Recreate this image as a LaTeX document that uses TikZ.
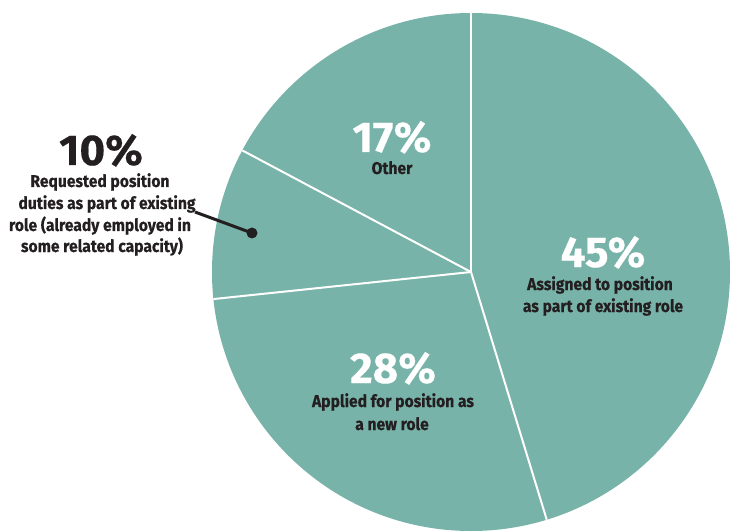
\documentclass[tikz,border=0pt]{standalone}
\usepackage{fontspec}
\setmainfont{Fira Sans}
\newfontfamily\labfont{Fira Sans}[FakeStretch=0.92,FakeBold=0.4]
\newfontfamily\pctfont{Fira Sans}[FakeStretch=1.02,FakeBold=0.4]
\usetikzlibrary{calc}
\definecolor{piefill}{HTML}{78B3A9}
\definecolor{ink}{HTML}{231F20}
\begin{document}
\begin{tikzpicture}[x=1pt,y=-1pt,
  lab/.style={font=\labfont\bfseries\fontsize{17}{21.8}\selectfont, text=ink, inner sep=0pt, anchor=base},
  pct/.style={font=\pctfont\bfseries\fontsize{43}{43}\selectfont, text=white, inner sep=0pt, text depth=0pt, anchor=base},
  divider/.style={draw=white, line width=2pt},
  leader/.style={draw=ink, line width=3pt}]
\useasboundingbox (0,0) rectangle (737,532);
\clip (0,0) rectangle (737,532);
\coordinate (c) at (471,272);
\fill[piefill] (c) circle[radius=259pt];
\coordinate (e1) at ($(c)+(90:259pt)$);
\coordinate (e2) at ($(c)+(-73:259pt)$);
\coordinate (e3) at ($(c)+(-174:259pt)$);
\coordinate (e4) at ($(c)+(152:259pt)$);
\foreach \e in {e1,e2,e3,e4} \draw[divider] (c) -- (\e);
% 45%
\node[pct] (p45) at (603,267) {45\%};
\node[lab] (l45a) at (600,290) {Assigned to position};
\node[lab] (l45b) at (603,312) {as part of existing role};
% 28%
\node[pct] (p28) at (393,383) {28\%};
\node[lab] (l28a) at (393,407) {Applied for position as};
\node[lab] (l28b) at (392,430) {a new role};
% 17%
\node[pct] (p17) at (392,152) {17\%};
\node[lab] (l17) at (392,174) {Other};
% 10%
\node[pct, text=ink] (p10) at (101,165) {10\%};
\node[lab] (l10a) at (100,187) {Requested position};
\node[lab] (l10b) at (107,209) {duties as part of existing};
\node[lab] (l10c) at (100,231) {role (already employed in};
\node[lab] (l10d) at (102,252) {some related capacity)};
\coordinate (ls) at (195,212);
\node[circle, fill=ink, inner sep=0pt, minimum size=11pt] (dot) at (252,233) {};
\draw[leader] (ls) -- (dot.center);
\end{tikzpicture}
\end{document}
